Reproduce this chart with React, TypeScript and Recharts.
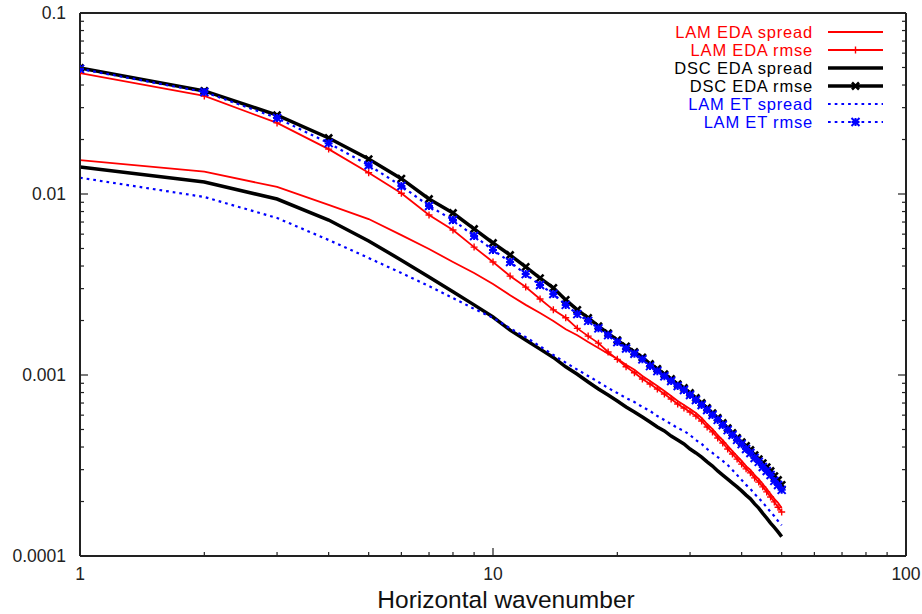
import { LineChart, Line, XAxis, YAxis, Legend } from "recharts";

const wavenumbers = [
  1, 2, 3, 4, 5, 6, 7, 8, 9, 10, 11, 12, 13, 14, 15, 16, 17, 18, 19, 20, 21, 22, 23, 24, 25,
  26, 27, 28, 29, 30, 31, 32, 33, 34, 35, 36, 37, 38, 39, 40, 41, 42, 43, 44, 45, 46, 47, 48,
  49, 50,
];

const lamEdaSpread = [
  0.0154, 0.0133, 0.01094, 0.0087, 0.00727, 0.00593, 0.00497, 0.00421, 0.00366, 0.00318,
  0.00276, 0.00244, 0.0022, 0.00199, 0.00179, 0.00166, 0.00152, 0.00141, 0.00131, 0.00123,
  0.00114, 0.00107, 0.000987, 0.000926, 0.00087, 0.000815, 0.000765, 0.000718, 0.000683,
  0.000649, 0.000616, 0.000579, 0.000536, 0.000503, 0.000466, 0.000437, 0.000406, 0.00038,
  0.000356, 0.000335, 0.000314, 0.000299, 0.00028, 0.000266, 0.00025, 0.000235, 0.00022,
  0.000207, 0.000197, 0.000184,
];

const lamEdaRmse = [
  0.0466, 0.0348, 0.0247, 0.0177, 0.0131, 0.0101, 0.00765, 0.00633, 0.00509, 0.00421,
  0.00352, 0.00306, 0.00263, 0.00229, 0.00207, 0.00181, 0.00164, 0.0015, 0.00134, 0.00122,
  0.00111, 0.00103, 0.00095, 0.000891, 0.000837, 0.000785, 0.000737, 0.000692, 0.000657,
  0.000625, 0.000593, 0.000557, 0.000516, 0.000485, 0.000449, 0.000421, 0.00039, 0.000366,
  0.000343, 0.000322, 0.000303, 0.000288, 0.00027, 0.000256, 0.000241, 0.000226, 0.000212,
  0.000199, 0.000186, 0.000175,
];

const dscEdaSpread = [
  0.0141, 0.01165, 0.00938, 0.00718, 0.0055, 0.00431, 0.00348, 0.00288, 0.00244, 0.00209,
  0.00177, 0.00156, 0.00139, 0.00125, 0.00111, 0.00101, 0.000915, 0.000837, 0.000775,
  0.000718, 0.000666, 0.000625, 0.000586, 0.00055, 0.000516, 0.000491, 0.00046, 0.000437,
  0.000416, 0.00039, 0.000371, 0.000352, 0.000331, 0.000314, 0.000295, 0.00028, 0.000266,
  0.000253, 0.000241, 0.000229, 0.000217, 0.000207, 0.000194, 0.000184, 0.000172, 0.000162,
  0.000152, 0.000144, 0.000136, 0.000128,
];

const dscEdaRmse = [
  0.0497, 0.0371, 0.0273, 0.0204, 0.0156, 0.01215, 0.00938, 0.00785, 0.00641, 0.00536,
  0.0046, 0.00396, 0.00343, 0.00303, 0.0026, 0.00229, 0.00207, 0.00186, 0.0017, 0.00156,
  0.00144, 0.00134, 0.00125, 0.00115, 0.00108, 0.00101, 0.00095, 0.000891, 0.000848,
  0.000795, 0.000746, 0.0007, 0.000657, 0.000616, 0.000579, 0.000543, 0.000509, 0.000478,
  0.000449, 0.000426, 0.000406, 0.000385, 0.000361, 0.000343, 0.000326, 0.00031, 0.000295,
  0.000276, 0.000263, 0.000247,
];

const lamEtSpread = [
  0.0123, 0.00963, 0.00737, 0.00557, 0.00443, 0.00366, 0.0031, 0.00266, 0.00232, 0.00207,
  0.00181, 0.00162, 0.00144, 0.00129, 0.00117, 0.00107, 0.000987, 0.000915, 0.000848,
  0.000795, 0.000746, 0.000709, 0.000666, 0.000633, 0.000593, 0.000564, 0.000536, 0.000509,
  0.000491, 0.000466, 0.000437, 0.000416, 0.00039, 0.000371, 0.000352, 0.000335, 0.000318,
  0.000299, 0.00028, 0.000263, 0.000247, 0.000235, 0.00022, 0.000209, 0.000197, 0.000186,
  0.000175, 0.000166, 0.000156, 0.000148,
];

const lamEtRmse = [
  0.0491, 0.0366, 0.0263, 0.0191, 0.01443, 0.01107, 0.00859, 0.00718, 0.00586, 0.00491,
  0.00421, 0.00361, 0.00314, 0.0028, 0.00244, 0.00217, 0.00199, 0.00181, 0.00166, 0.00152,
  0.0014, 0.00131, 0.00122, 0.00112, 0.00105, 0.000985, 0.000926, 0.000869, 0.000827,
  0.000775, 0.000727, 0.000683, 0.000641, 0.000601, 0.000565, 0.000529, 0.000496, 0.000466,
  0.000438, 0.000415, 0.00039, 0.000371, 0.000348, 0.000331, 0.00031, 0.000295, 0.00028,
  0.00026, 0.000247, 0.000232,
];

const xMajorTicks = [1, 10, 100];
const xMinorTicks = [2, 3, 4, 5, 6, 7, 8, 9, 20, 30, 40, 50, 60, 70, 80, 90];
const yMajorTicks = [0.0001, 0.001, 0.01, 0.1];
const yMinorTicks = [
  0.0002, 0.0003, 0.0004, 0.0005, 0.0006, 0.0007, 0.0008, 0.0009, 0.002, 0.003, 0.004, 0.005,
  0.006, 0.007, 0.008, 0.009, 0.02, 0.03, 0.04, 0.05, 0.06, 0.07, 0.08, 0.09,
];

const data = wavenumbers.map((k, i) => ({
  k,
  lamEdaSpread: lamEdaSpread[i],
  lamEdaRmse: lamEdaRmse[i],
  dscEdaSpread: dscEdaSpread[i],
  dscEdaRmse: dscEdaRmse[i],
  lamEtSpread: lamEtSpread[i],
  lamEtRmse: lamEtRmse[i],
}));

const allXTicks = [...xMajorTicks, ...xMinorTicks].sort((a, b) => a - b);
const allYTicks = [...yMajorTicks, ...yMinorTicks].sort((a, b) => a - b);

const RED = "#ff0000";
const BLUE = "#0000ff";
const BLACK = "#000000";
const AXIS = "#222222";
const FONT = "'Liberation Sans', Arial, sans-serif";
const TICK_FONT = 17.5;

type Side = "bottom" | "top" | "left" | "right";

// draws inward gnuplot-style ticks; labels only on major ticks of bottom/left axes
const makeTick = (side: Side, majors: number[], withLabel: boolean) => (p: any) => {
  const v = p.payload?.value;
  const major = majors.some((m) => Math.abs(m - v) / m < 1e-6);
  const len = major ? 8 : 4;
  const { x, y } = p;
  let x2 = x;
  let y2 = y;
  if (side === "bottom") y2 = y - len;
  if (side === "top") y2 = y + len;
  if (side === "left") x2 = x + len;
  if (side === "right") x2 = x - len;
  return (
    <g>
      <line x1={x} y1={y} x2={x2} y2={y2} stroke={AXIS} strokeWidth={1.2} />
      {withLabel && major && side === "bottom" && (
        <text x={x} y={y + 12} dy="0.71em" textAnchor="middle" fill={AXIS} fontSize={TICK_FONT} fontFamily={FONT}>
          {String(v)}
        </text>
      )}
      {withLabel && major && side === "left" && (
        <text x={x - 14} y={y} dy="0.355em" textAnchor="end" fill={AXIS} fontSize={TICK_FONT} fontFamily={FONT}>
          {String(v)}
        </text>
      )}
    </g>
  );
};

type MarkerKind = "plus" | "cross" | "star";

function markerPath(kind: MarkerKind, cx: number, cy: number, r: number) {
  const plus = `M${cx - r},${cy}H${cx + r}M${cx},${cy - r}V${cy + r}`;
  const cross = `M${cx - r},${cy - r}L${cx + r},${cy + r}M${cx - r},${cy + r}L${cx + r},${cy - r}`;
  if (kind === "plus") return plus;
  if (kind === "cross") return cross;
  return plus + cross;
}

const markerStyle: Record<MarkerKind, { color: string; r: number; w: number }> = {
  plus: { color: RED, r: 3.5, w: 1.4 },
  cross: { color: BLACK, r: 3.5, w: 2.6 },
  star: { color: BLUE, r: 4, w: 2 },
};

const dotFor = (kind: MarkerKind) => (p: any) => {
  const s = markerStyle[kind];
  if (p.cx == null || p.cy == null) return <g key={`${kind}-${p.index}`} />;
  return (
    <path
      key={`${kind}-${p.index}`}
      d={markerPath(kind, p.cx, p.cy, s.r)}
      stroke={s.color}
      strokeWidth={s.w}
      fill="none"
    />
  );
};

const legendRows = [
  { label: "LAM EDA spread", color: RED, width: 1.8, dash: undefined, marker: null },
  { label: "LAM EDA rmse", color: RED, width: 1.8, dash: undefined, marker: "plus" },
  { label: "DSC EDA spread", color: BLACK, width: 3.5, dash: undefined, marker: null },
  { label: "DSC EDA rmse", color: BLACK, width: 3.5, dash: undefined, marker: "cross" },
  { label: "LAM ET spread", color: BLUE, width: 2.2, dash: "2.7 4", marker: null },
  { label: "LAM ET rmse", color: BLUE, width: 2.2, dash: "2.7 4", marker: "star" },
] as const;

function ChartLegend() {
  return (
    <svg width={340} height={120} style={{ display: "block" }}>
      {legendRows.map((row, i) => {
        const y = 12 + i * 18;
        return (
          <g key={row.label}>
            <text
              x={253}
              y={y}
              textAnchor="end"
              dominantBaseline="central"
              fill={row.color}
              fontSize={16.5}
              letterSpacing={0.8}
              fontFamily={FONT}
            >
              {row.label}
            </text>
            <line
              x1={268}
              x2={323}
              y1={y}
              y2={y}
              stroke={row.color}
              strokeWidth={row.width}
              strokeDasharray={row.dash}
            />
            {row.marker && (
              <path
                d={markerPath(row.marker, 295.5, y, markerStyle[row.marker].r)}
                stroke={row.color}
                strokeWidth={markerStyle[row.marker].w}
                fill="none"
              />
            )}
          </g>
        );
      })}
    </svg>
  );
}

const borderStyle = { stroke: AXIS, strokeWidth: 2 };

export default function App() {
  return (
    <div style={{ position: "absolute", left: 0, top: 0, background: "#fff" }}>
      <LineChart
        width={922}
        height={614}
        data={data}
        margin={{ top: 13, right: 16, bottom: 0, left: 0 }}
      >
        <XAxis
          xAxisId="main"
          dataKey="k"
          type="number"
          scale="log"
          domain={[1, 100]}
          allowDataOverflow
          ticks={allXTicks}
          interval={0}
          tickLine={false}
          tickSize={0}
          tickMargin={0}
          height={58}
          axisLine={borderStyle}
          tick={makeTick("bottom", xMajorTicks, true)}
          label={{
            value: "Horizontal wavenumber",
            position: "insideBottom",
            offset: 6,
            dx: 13,
            fill: "#111",
            fontSize: 24.5,
            fontFamily: FONT,
          }}
        />
        <XAxis
          xAxisId="top"
          orientation="top"
          mirror
          type="number"
          scale="log"
          domain={[1, 100]}
          allowDataOverflow
          ticks={allXTicks}
          interval={0}
          tickLine={false}
          tickSize={0}
          tickMargin={0}
          height={1}
          axisLine={borderStyle}
          tick={makeTick("top", xMajorTicks, false)}
        />
        <YAxis
          yAxisId="main"
          type="number"
          scale="log"
          domain={[0.0001, 0.1]}
          allowDataOverflow
          ticks={allYTicks}
          interval={0}
          tickLine={false}
          tickSize={0}
          tickMargin={0}
          width={80}
          axisLine={borderStyle}
          tick={makeTick("left", yMajorTicks, true)}
        />
        <YAxis
          yAxisId="right"
          orientation="right"
          mirror
          type="number"
          scale="log"
          domain={[0.0001, 0.1]}
          allowDataOverflow
          ticks={allYTicks}
          interval={0}
          tickLine={false}
          tickSize={0}
          tickMargin={0}
          width={1}
          axisLine={borderStyle}
          tick={makeTick("right", yMajorTicks, false)}
        />

        <Legend
          layout="horizontal"
          verticalAlign="middle"
          align="center"
          wrapperStyle={{ left: 560, top: 20, width: 340, height: 120 }}
          content={() => <ChartLegend />}
        />

        <Line xAxisId="main" yAxisId="main" dataKey="lamEdaSpread" stroke={RED} strokeWidth={1.8} dot={false} activeDot={false} isAnimationActive={false} />
        <Line xAxisId="main" yAxisId="main" dataKey="lamEdaRmse" stroke={RED} strokeWidth={1.8} dot={dotFor("plus")} activeDot={false} isAnimationActive={false} />
        <Line xAxisId="main" yAxisId="main" dataKey="dscEdaSpread" stroke={BLACK} strokeWidth={3.5} dot={false} activeDot={false} isAnimationActive={false} />
        <Line xAxisId="main" yAxisId="main" dataKey="dscEdaRmse" stroke={BLACK} strokeWidth={3.5} dot={dotFor("cross")} activeDot={false} isAnimationActive={false} />
        <Line xAxisId="main" yAxisId="main" dataKey="lamEtSpread" stroke={BLUE} strokeWidth={2.2} strokeDasharray="2.7 4" dot={false} activeDot={false} isAnimationActive={false} />
        <Line xAxisId="main" yAxisId="main" dataKey="lamEtRmse" stroke={BLUE} strokeWidth={2.2} strokeDasharray="2.7 4" dot={dotFor("star")} activeDot={false} isAnimationActive={false} />
      </LineChart>
    </div>
  );
}
